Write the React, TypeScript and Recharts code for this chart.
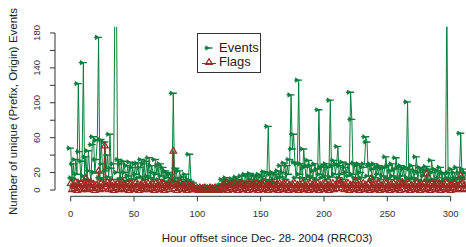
import { ComposedChart, Line, XAxis, YAxis, ReferenceLine, Legend, Label } from "recharts";

// hourly counts (hour 0 .. 312)
const events = [
  48, 14, 30, 12, 35, 18, 122, 44, 10, 33,
  146, 16, 38, 12, 45, 22, 10, 52, 61, 20,
  35, 57, 175, 14, 58, 30, 12, 55, 22, 40,
  15, 64, 25, 12, 30, 250, 255, 20, 35, 12,
  30, 14, 33, 20, 10, 28, 16, 32, 12, 26,
  12, 30, 18, 31, 14, 26, 35, 15, 30, 12,
  33, 16, 37, 14, 28, 20, 12, 35, 18, 28,
  12, 30, 16, 26, 10, 22, 14, 20, 8, 18,
  12, 111, 10, 25, 14, 8, 22, 12, 6, 15,
  8, 18, 6, 12, 41, 10, 5, 8, 4, 3,
  3, 2, 4, 3, 2, 3, 2, 4, 3, 2,
  3, 2, 3, 4, 2, 3, 2, 4, 5, 6,
  12, 5, 10, 14, 6, 11, 4, 9, 13, 7,
  10, 15, 6, 12, 8, 16, 10, 5, 18, 9,
  16, 8, 19, 12, 6, 17, 10, 15, 7, 18,
  10, 16, 8, 21, 12, 20, 73, 10, 18, 8,
  20, 12, 18, 8, 22, 14, 28, 15, 20, 31,
  12, 28, 18, 35, 109, 47, 64, 32, 14, 30,
  126, 18, 30, 14, 47, 26, 12, 28, 34, 16,
  28, 14, 22, 30, 12, 24, 92, 18, 26, 14,
  28, 16, 30, 12, 26, 103, 15, 28, 34, 18,
  30, 50, 14, 28, 18, 32, 12, 26, 20, 30,
  16, 112, 81, 18, 31, 14, 28, 12, 30, 20,
  14, 26, 30, 61, 55, 16, 28, 30, 12, 24,
  30, 14, 26, 18, 28, 12, 25, 16, 26, 38,
  14, 28, 12, 22, 30, 16, 24, 37, 14, 26,
  12, 28, 16, 24, 10, 26, 101, 14, 24, 12,
  28, 14, 22, 38, 12, 20, 26, 10, 24, 16,
  22, 27, 12, 24, 10, 34, 20, 12, 24, 10,
  22, 14, 26, 10, 20, 19, 12, 215, 14, 20,
  12, 24, 10, 20, 14, 26, 12, 20, 65, 14,
  24, 12, 20,
];

const flags = [
  8, 1, 6, 2, 9, 0, 7, 3, 8, 1,
  6, 2, 14, 1, 8, 3, 9, 2, 7, 0,
  6, 3, 22, 1, 8, 2, 7, 51, 4, 9,
  1, 7, 2, 9, 0, 6, 3, 8, 1, 7,
  2, 9, 1, 6, 3, 8, 0, 7, 2, 6,
  1, 8, 3, 7, 0, 6, 2, 9, 1, 7,
  3, 8, 1, 6, 2, 7, 0, 8, 3, 6,
  1, 7, 2, 8, 0, 6, 3, 7, 1, 5,
  8, 45, 2, 7, 0, 6, 3, 8, 1, 6,
  2, 7, 0, 5, 3, 6, 1, 4, 2, 1,
  2, 0, 3, 1, 2, 0, 3, 1, 2, 0,
  3, 1, 2, 0, 3, 1, 2, 0, 3, 4,
  1, 7, 2, 8, 0, 6, 3, 7, 1, 8,
  2, 6, 0, 7, 3, 8, 1, 6, 2, 7,
  0, 8, 3, 6, 1, 7, 2, 8, 0, 6,
  3, 7, 1, 8, 2, 6, 0, 7, 3, 8,
  1, 6, 2, 7, 0, 8, 3, 6, 1, 7,
  2, 8, 0, 6, 3, 7, 1, 8, 2, 6,
  0, 7, 3, 8, 1, 6, 2, 7, 0, 8,
  3, 6, 1, 7, 2, 8, 0, 6, 3, 7,
  1, 8, 2, 6, 0, 7, 3, 8, 1, 6,
  2, 7, 12, 8, 3, 6, 1, 7, 2, 8,
  0, 6, 3, 7, 1, 11, 2, 6, 0, 7,
  3, 8, 1, 6, 2, 7, 0, 13, 3, 6,
  1, 7, 2, 8, 0, 6, 3, 7, 1, 8,
  2, 6, 0, 7, 3, 8, 1, 6, 2, 7,
  0, 8, 9, 6, 1, 7, 2, 8, 0, 6,
  3, 7, 1, 8, 2, 6, 0, 7, 3, 8,
  1, 19, 2, 7, 0, 8, 3, 6, 1, 7,
  2, 8, 0, 6, 3, 7, 1, 8, 2, 6,
  0, 7, 3, 8, 1, 6, 2, 7, 17, 8,
  1, 6, 2,
];

const xTicks = [0, 50, 100, 150, 200, 250, 300];
const yTicks = [0, 20, 40, 60, 80, 100, 120, 140, 160, 180];
const yTickLabels = [0, 20, 60, 100, 140, 180];

const data = events.map((v, i) => ({ hour: i, events: v, flags: flags[i] }));

const GREEN = "#0b7f3c";
const RED = "#9c2b23";
const AXIS = "#333";
const FONT = "'Liberation Sans', Arial, sans-serif";

const X_MIN = -12.4;
const X_MAX = 322.4;
const Y_MIN = -7.2;
const Y_MAX = 187.2;

function EventMark({ cx, cy }: { cx: number; cy: number }) {
  return (
    <g>
      <path d={`M${cx - 4.5},${cy}H${cx + 3.5}`} stroke={GREEN} strokeWidth={1.4} />
      <path d={`M${cx - 3.5},${cy - 2.8}L${cx + 0.8},${cy}L${cx - 3.5},${cy + 2.8}Z`} fill={GREEN} />
    </g>
  );
}

function FlagMark({ cx, cy }: { cx: number; cy: number }) {
  return (
    <path
      d={`M${cx},${cy - 3.4}L${cx + 3.4},${cy + 2.4}L${cx - 3.4},${cy + 2.4}Z`}
      fill="none"
      stroke={RED}
      strokeWidth={1.2}
    />
  );
}

const eventDot = (p: any) =>
  p.cx == null || p.cy == null ? <g key={`e-${p.index}`} /> : (
    <g key={`e-${p.index}`}>
      <EventMark cx={p.cx} cy={p.cy} />
    </g>
  );

const flagDot = (p: any) =>
  p.cx == null || p.cy == null ? <g key={`f-${p.index}`} /> : (
    <g key={`f-${p.index}`}>
      <FlagMark cx={p.cx} cy={p.cy} />
    </g>
  );

const XTick = ({ x, y, payload }: any) => (
  <text x={x} y={y} dy={14} textAnchor="middle" fontSize={9.5} fill={AXIS} fontFamily={FONT}>
    {payload.value}
  </text>
);

const YTick = ({ x, y, payload }: any) =>
  yTickLabels.includes(payload.value) ? (
    <text
      transform={`translate(${x - 8},${y}) rotate(-90)`}
      textAnchor="middle"
      fontSize={9.5}
      fill={AXIS}
      fontFamily={FONT}
    >
      {payload.value}
    </text>
  ) : (
    <g />
  );

const renderLegend = (props: any) => (
  <div
    style={{
      position: "relative",
      width: 64,
      height: 40,
      boxSizing: "border-box",
      border: `1px solid ${AXIS}`,
      background: "#fff",
      fontFamily: FONT,
      fontSize: 13,
      color: "#222",
    }}
  >
    {(props.payload || []).map((entry: any, i: number) => (
      <div
        key={entry.value}
        style={{ position: "absolute", left: 2, top: 6 + i * 14.4, height: 15, display: "flex", alignItems: "center" }}
      >
        <svg width={18} height={12} style={{ marginRight: 1 }}>
          {entry.dataKey === "events" ? (
            <EventMark cx={9} cy={6} />
          ) : (
            <g>
              <path d="M2,7.5H16" stroke={RED} strokeWidth={1} />
              <FlagMark cx={9} cy={6} />
            </g>
          )}
        </svg>
        <span style={{ lineHeight: "15px" }}>{entry.value}</span>
      </div>
    ))}
  </div>
);

export default function App() {
  return (
    <div style={{ position: "absolute", left: 0, top: 0, width: 466, height: 247, overflow: "hidden", background: "#fff" }}>
      <ComposedChart
        width={490}
        height={247}
        data={data}
        margin={{ top: 26.7, right: 11, bottom: 5.7, left: 10 }}
      >
        <XAxis
          dataKey="hour"
          type="number"
          domain={[X_MIN, X_MAX]}
          ticks={xTicks}
          allowDataOverflow
          axisLine={false}
          tickLine={{ stroke: AXIS }}
          tickSize={5}
          tick={<XTick />}
          height={45}
          interval={0}
        >
          <Label
            content={({ viewBox }: any) => (
              <text
                x={viewBox.x + viewBox.width / 2}
                y={241.5}
                textAnchor="middle"
                fontSize={11.5}
                fill="#222"
                fontFamily={FONT}
              >
                Hour offset since Dec- 28- 2004 (RRC03)
              </text>
            )}
          />
        </XAxis>
        <YAxis
          type="number"
          domain={[Y_MIN, Y_MAX]}
          ticks={yTicks}
          allowDataOverflow
          axisLine={false}
          tickLine={{ stroke: AXIS }}
          tickSize={5}
          tick={<YTick />}
          width={45}
          interval={0}
        >
          <Label
            content={({ viewBox }: any) => (
              <text
                transform={`translate(16.5,${viewBox.y + viewBox.height / 2}) rotate(-90)`}
                textAnchor="middle"
                fontSize={11.5}
                fill="#222"
                fontFamily={FONT}
              >
                Number of unique (Prefix, Origin) Events
              </text>
            )}
          />
        </YAxis>
        <ReferenceLine segment={[{ x: 0, y: Y_MIN }, { x: 300, y: Y_MIN }]} stroke={AXIS} ifOverflow="visible" />
        <ReferenceLine segment={[{ x: X_MIN, y: 0 }, { x: X_MIN, y: 180 }]} stroke={AXIS} ifOverflow="visible" />
        <Line
          name="Events"
          dataKey="events"
          type="linear"
          stroke={GREEN}
          strokeWidth={1}
          dot={eventDot}
          activeDot={false}
          isAnimationActive={false}
        />
        <Line
          name="Flags"
          dataKey="flags"
          type="linear"
          stroke={RED}
          strokeWidth={1.2}
          dot={flagDot}
          activeDot={false}
          isAnimationActive={false}
        />
        <Legend
          content={renderLegend}
          layout="horizontal"
          align="center"
          verticalAlign="middle"
          wrapperStyle={{ left: 197, top: 33, width: 64, height: 40 }}
        />
      </ComposedChart>
    </div>
  );
}
